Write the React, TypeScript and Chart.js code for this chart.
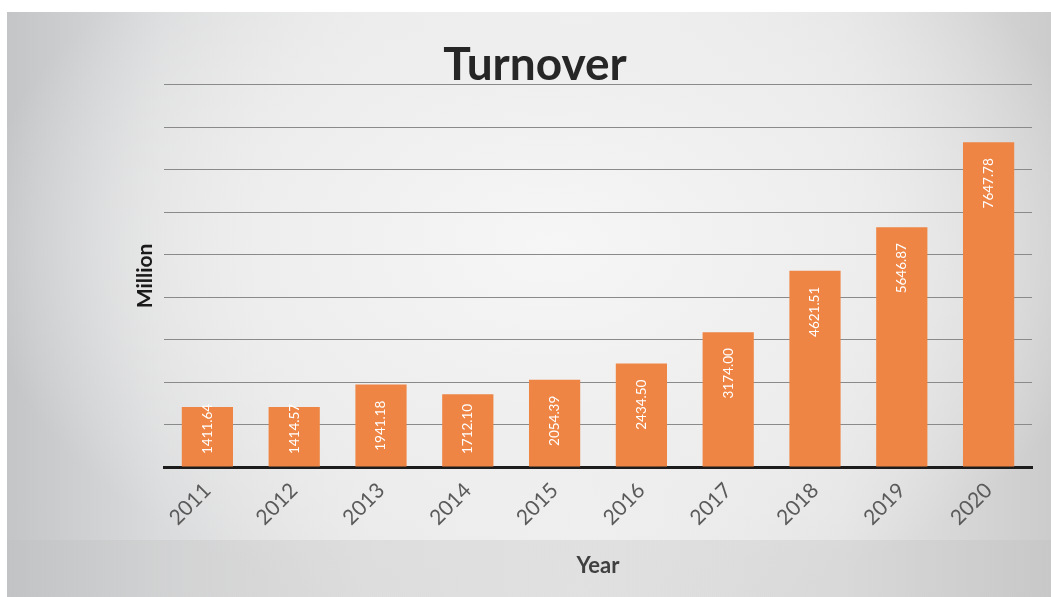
import React, { useEffect, useRef } from "react";
import { Chart, registerables } from "chart.js";

Chart.register(...registerables);

// ---- data ----
const years: string[] = ["2011", "2012", "2013", "2014", "2015", "2016", "2017", "2018", "2019", "2020"];
const turnover: number[] = [1411.64, 1414.57, 1941.18, 1712.1, 2054.39, 2434.5, 3174.0, 4621.51, 5646.87, 7647.78];
const yMin = 0;
const yMax = 9000;
const yStep = 1000;
const chartTitle = "Turnover";
const xTitle = "Year";
const yTitle = "Million";

const FONT = "Lato, 'Open Sans', sans-serif";

const barLabels = {
  id: "barLabels",
  afterDatasetsDraw(chart: any) {
    const ctx = chart.ctx as CanvasRenderingContext2D;
    const meta = chart.getDatasetMeta(0);
    const base = chart.scales.y.getPixelForValue(0);
    ctx.save();
    ctx.font = `13.5px ${FONT}`;
    ctx.fillStyle = "#ffffff";
    ctx.textBaseline = "middle";
    ctx.textAlign = "left";
    meta.data.forEach((bar: any, i: number) => {
      const text = turnover[i].toFixed(2);
      const w = ctx.measureText(text).width;
      let bottom = bar.y + 16 + w;
      if (bottom > base - 13) bottom = base - 13;
      ctx.save();
      ctx.translate(bar.x, bottom);
      ctx.rotate(-Math.PI / 2);
      ctx.fillText(text, 0, 0);
      ctx.restore();
    });
    ctx.restore();
  },
};

export default function App() {
  const ref = useRef<HTMLCanvasElement | null>(null);

  useEffect(() => {
    if (!ref.current) return;
    const chart = new Chart(ref.current, {
      type: "bar",
      data: {
        labels: years,
        datasets: [
          {
            label: chartTitle,
            data: turnover,
            backgroundColor: "#EE8544",
            borderWidth: 0,
            categoryPercentage: 1,
            barPercentage: 0.59,
          },
        ],
      },
      options: {
        responsive: false,
        animation: false,
        layout: { padding: { left: 31, right: 19, top: 0, bottom: 18 } },
        plugins: {
          legend: { display: false },
          tooltip: { enabled: false },
          title: {
            display: true,
            text: chartTitle,
            color: "#262626",
            font: { family: FONT, size: 46, weight: "bold", lineHeight: 0.8 },
            padding: { top: 35, bottom: 1 },
          },
        },
        scales: {
          x: {
            grid: { display: false, drawTicks: false },
            border: { display: true, color: "#1c1c1c", width: 3 },
            ticks: {
              color: "#5a5a5a",
              font: { family: FONT, size: 21 },
              minRotation: 45,
              maxRotation: 45,
              padding: 11,
              autoSkip: false,
            },
            title: {
              display: true,
              text: xTitle,
              color: "#404040",
              font: { family: FONT, size: 22, weight: "bold", lineHeight: 1.2 },
              padding: { top: 0, bottom: 0 },
            },
            afterFit: (s: any) => {
              s.height = 112;
            },
          },
          y: {
            min: yMin,
            max: yMax,
            ticks: { display: false, stepSize: yStep },
            grid: { color: "#8a8a8a", lineWidth: 1, drawTicks: false },
            border: { display: false },
            title: {
              display: true,
              text: yTitle,
              color: "#1a1a1a",
              font: { family: FONT, size: 21, weight: "bold", lineHeight: 1.2 },
              padding: { top: 95, bottom: 0 },
            },
            afterFit: (s: any) => {
              s.width = 126;
            },
          },
        },
      },
      plugins: [barLabels],
    });
    return () => chart.destroy();
  }, []);

  return (
    <div
      style={{
        position: "absolute",
        left: 7,
        top: 12,
        width: 1044,
        height: 585,
        background:
          "linear-gradient(to bottom, rgba(0,0,0,0) 0px, rgba(0,0,0,0) 528px, rgba(190,190,190,0.3) 528px, rgba(190,190,190,0.3) 585px), radial-gradient(ellipse 55% 65% at 52% 40%, #f6f6f6 0%, #eeeeee 50%, rgba(236,236,236,0) 100%), linear-gradient(to right, #c3c5c7 0%, #dadbdc 15%, #eaeaea 35%, #f0f0f0 55%, #e4e4e4 80%, #cccccc 100%)",
      }}
    >
      <canvas ref={ref} width={1044} height={585} style={{ display: "block" }} />
    </div>
  );
}
